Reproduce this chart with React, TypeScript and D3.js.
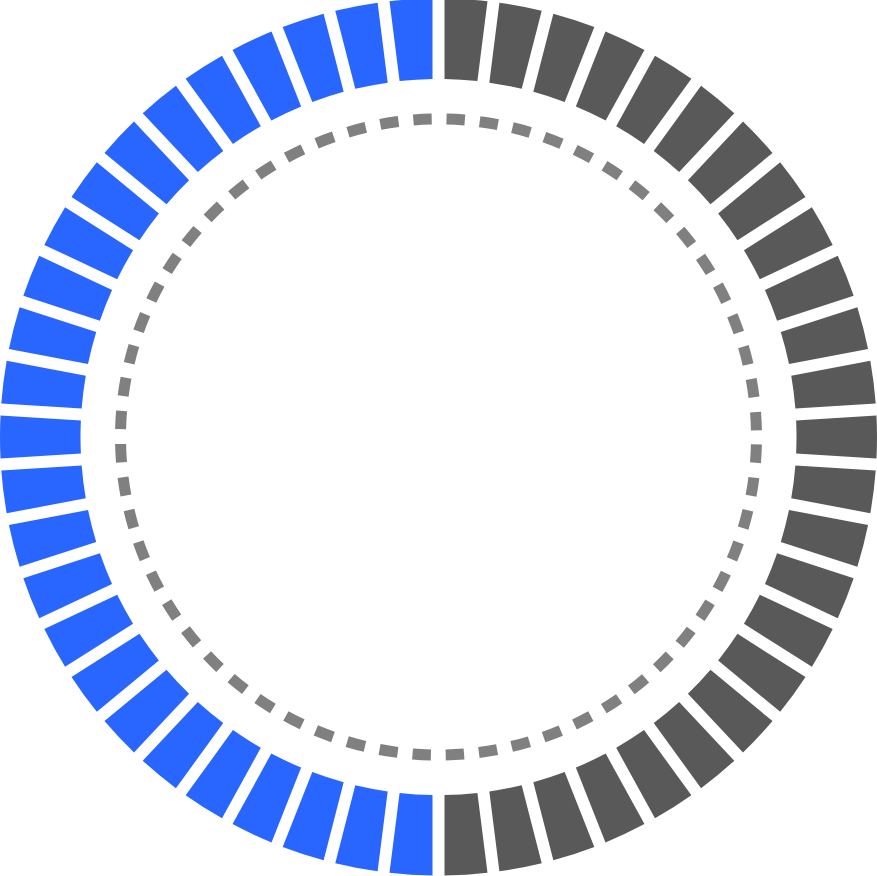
import * as d3 from "d3";
import { useEffect, useRef } from "react";

// gauge data
const segmentCount = [50];
const activeSegments = [25]; // counted counter-clockwise from the top
const segmentColors = ["#595959", "#2965ff"];
const dashCount = [60];

const App = () => {
  const svgRef = useRef<SVGSVGElement>(null);

  useEffect(() => {
    const w = 877;
    const h = 876;
    const cx = 438.5;
    const cy = 437;
    const outer = 438.5;
    const inner = 358;
    const dashR = 318;

    const svg = d3.select(svgRef.current).attr("width", w).attr("height", h);
    svg.selectAll("*").remove();

    const g = svg.append("g").attr("transform", `translate(${cx},${cy})`);

    const n = segmentCount[0];
    const idx = d3.range(n);
    const angle = d3
      .scaleLinear()
      .domain([0, n])
      .range([0, 2 * Math.PI]);

    const arc = d3
      .arc<number>()
      .innerRadius(inner)
      .outerRadius(outer)
      .startAngle((d) => angle(d))
      .endAngle((d) => angle(d + 1))
      .padRadius(400)
      .padAngle(12 / 400);

    g.selectAll(".seg")
      .data(idx)
      .join("path")
      .attr("class", "seg")
      .attr("d", (d) => arc(d))
      .attr("fill", (d) =>
        d >= n - activeSegments[0] ? segmentColors[1] : segmentColors[0]
      );

    // dashed inner ring
    const circ = 2 * Math.PI * dashR;
    const period = circ / dashCount[0];
    const dash = period * 0.55;
    const gap = period - dash;
    g.append("circle")
      .attr("r", dashR)
      .attr("fill", "none")
      .attr("stroke", "#808080")
      .attr("stroke-width", 11)
      .attr("stroke-dasharray", `${dash} ${gap}`)
      .attr("stroke-dashoffset", -gap / 2);
  }, []);

  return (
    <svg
      ref={svgRef}
      style={{ position: "absolute", left: 0, top: 0 }}
    ></svg>
  );
};

export default App;
